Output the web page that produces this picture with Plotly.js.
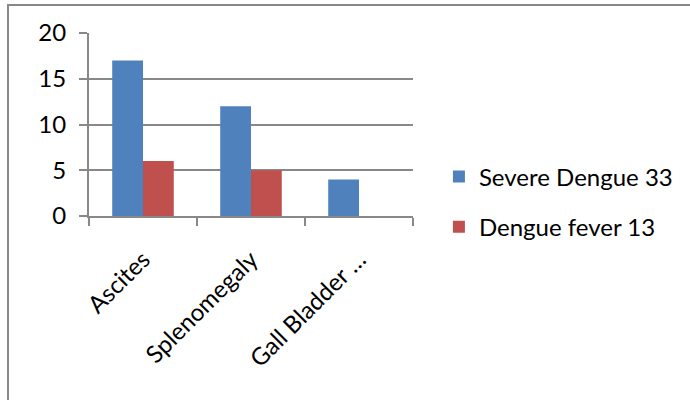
<!DOCTYPE html>
<html>
<head>
<meta charset="utf-8">
<script src="https://cdn.plot.ly/plotly-3.0.1.min.js"></script>
<style>
  html, body { margin: 0; padding: 0; background: #fff; }
  #frame { position: absolute; left: 7px; top: 4px; width: 700px; height: 420px; border: 2px solid #888; box-sizing: border-box; }
  #chart { position: absolute; left: 0; top: 0; width: 690px; height: 400px; }
</style>
</head>
<body>
<div id="frame"></div>
<div id="chart"></div>
<script>
const categories = ["Ascites", "Splenomegaly", "Gall Bladder …"];
const severeDengue = [17, 12, 4];
const dengueFever = [6, 5, 0];
const seriesNames = ["Severe Dengue 33", "Dengue fever 13"];
const yTicks = [0, 5, 10, 15, 20];

const fontFamily = "Lato, 'Open Sans', sans-serif";
const fs = 24;

const traces = [
  {
    type: "bar", x: categories, y: severeDengue, name: seriesNames[0],
    legendgroup: "a",
    marker: { color: "#4F81BD", line: { width: 0 } }
  },
  {
    type: "bar", x: categories, y: dengueFever, name: seriesNames[1],
    legendgroup: "b",
    marker: { color: "#C0504D", line: { width: 0 } }
  }
];

const layout = {
  width: 690, height: 400,
  paper_bgcolor: "rgba(0,0,0,0)", plot_bgcolor: "rgba(0,0,0,0)",
  margin: { l: 89, r: 277, t: 33, b: 184, autoexpand: false },
  barmode: "group", bargap: 0.43, bargroupgap: 0,
  font: { family: fontFamily, size: fs, color: "#000" },
  showlegend: true,
  legend: {
    x: 1.08, y: 0.077, xanchor: "left", yanchor: "middle",
    font: { family: fontFamily, size: fs, color: "#000" },
    traceorder: "grouped", tracegroupgap: 16,
    itemwidth: 30, bgcolor: "rgba(0,0,0,0)"
  },
  xaxis: {
    type: "category", tickson: "boundaries", ticks: "outside", ticklen: 8,
    tickcolor: "#888", tickwidth: 2, showline: true, linecolor: "#888", linewidth: 2,
    showgrid: false, tickangle: -45, tickfont: { family: fontFamily, size: fs },
    ticklabelstandoff: 18, fixedrange: true
  },
  yaxis: {
    range: [0, 20], tickvals: yTicks, ticks: "outside", ticklen: 8,
    tickcolor: "#888", tickwidth: 2, showline: true, linecolor: "#888", linewidth: 2,
    showgrid: true, gridcolor: "#888", gridwidth: 2, zeroline: false,
    tickfont: { family: fontFamily, size: fs }, ticklabelstandoff: 8, fixedrange: true
  }
};

Plotly.newPlot("chart", traces, layout, { displayModeBar: false, staticPlot: true });
</script>
</body>
</html>
